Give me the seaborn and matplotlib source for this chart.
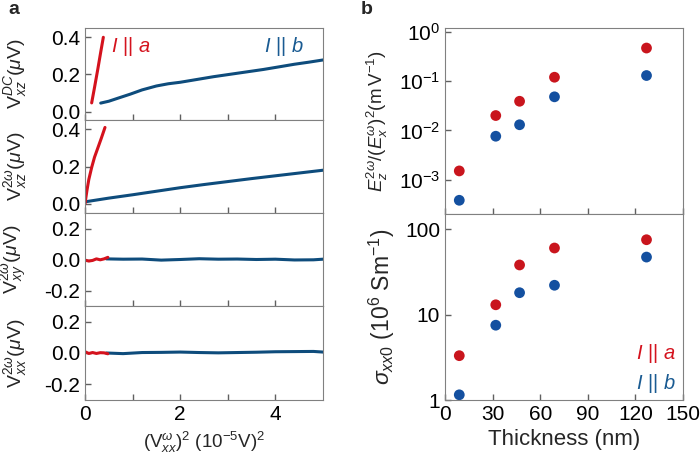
import numpy as np
import pandas as pd
import seaborn as sns
import matplotlib.pyplot as plt
from matplotlib.ticker import LogLocator, NullLocator, FixedLocator

# panel a: V vs (V_xx^w)^2, units 1e-5 V^2
dc_b_x = [0.33, 0.5, 0.7, 0.95, 1.2, 1.5, 1.75, 2.0, 2.35, 2.7, 3.05, 3.4, 3.75, 4.1, 4.4, 4.7, 5.0]
dc_b_y = [0.046, 0.056, 0.073, 0.094, 0.117, 0.138, 0.150, 0.158, 0.173, 0.188, 0.201, 0.214, 0.227, 0.242, 0.255, 0.266, 0.278]
dc_a_x = [0.14, 0.2, 0.27, 0.33, 0.385]
dc_a_y = [0.047, 0.13, 0.23, 0.32, 0.40]

xz_b_x = [0.0, 0.5, 1.0, 1.5, 2.0, 2.5, 3.0, 3.5, 4.0, 4.5, 5.0]
xz_b_y = [0.010, 0.030, 0.048, 0.067, 0.086, 0.103, 0.119, 0.135, 0.150, 0.165, 0.180]
xz_a_x = [0.0, 0.04, 0.08, 0.14, 0.2, 0.27, 0.34, 0.42]
xz_a_y = [0.0, 0.07, 0.13, 0.195, 0.25, 0.30, 0.35, 0.41]

xy_b_x = [0.45, 0.8, 1.2, 1.6, 2.0, 2.4, 2.8, 3.2, 3.6, 4.0, 4.4, 4.8, 5.0]
xy_b_y = [0.004, 0.002, 0.003, -0.004, 0.0, 0.005, 0.002, 0.003, 0.0, 0.002, -0.003, -0.002, 0.002]
xy_a_x = [0.0, 0.08, 0.16, 0.24, 0.32, 0.4, 0.48]
xy_a_y = [-0.004, -0.010, -0.006, 0.004, -0.002, 0.004, 0.014]

xx_b_x = [0.45, 0.8, 1.2, 1.6, 2.0, 2.4, 2.8, 3.2, 3.6, 4.0, 4.4, 4.8, 5.0]
xx_b_y = [0.0, -0.004, 0.003, 0.004, 0.006, 0.003, 0.001, 0.003, 0.005, 0.008, 0.009, 0.010, 0.006]
xx_a_x = [0.0, 0.08, 0.16, 0.24, 0.32, 0.4, 0.48]
xx_a_y = [0.008, -0.003, 0.003, -0.003, 0.002, 0.001, -0.005]

# panel b
thickness = [9, 32, 47, 69, 127]
ratio_a = [1.5e-3, 2.0e-2, 3.9e-2, 1.2e-1, 4.7e-1]
ratio_b = [3.8e-4, 7.6e-3, 1.3e-2, 4.8e-2, 1.3e-1]
sigma_a = [3.3, 13, 38, 60, 75]
sigma_b = [1.15, 7.5, 18, 22, 47]

RED = "#d4121d"
BLUE_LINE = "#0e4c7c"
RED_DOT = "#c9151d"
BLUE_DOT = "#1450a0"
BLUE_TXT = "#1a5b92"

sns.set_style("ticks")
plt.rcParams['font.family'] = ['Liberation Sans', 'DejaVu Sans']
plt.rcParams['mathtext.fontset'] = 'custom'
plt.rcParams['mathtext.rm'] = 'Liberation Sans'
plt.rcParams['mathtext.it'] = 'Liberation Sans:italic'
plt.rcParams['mathtext.bf'] = 'Liberation Sans:bold'
plt.rcParams['font.size'] = 15
plt.rcParams['axes.edgecolor'] = '#808080'
plt.rcParams['xtick.direction'] = 'in'
plt.rcParams['ytick.direction'] = 'in'
plt.rcParams['xtick.color'] = '#606060'
plt.rcParams['ytick.color'] = '#606060'
plt.rcParams['xtick.labelcolor'] = 'black'
plt.rcParams['ytick.labelcolor'] = 'black'
plt.rcParams['xtick.labelsize'] = 15
plt.rcParams['ytick.labelsize'] = 15

fig = plt.figure(figsize=(7, 4.55), dpi=100)
W, H = 700.0, 455.0


def box(l, t, r, b):
    return [l / W, 1 - b / H, (r - l) / W, (b - t) / H]


tops = [28, 120, 213, 306, 400]
axa = [fig.add_axes(box(85, tops[i], 323, tops[i + 1])) for i in range(4)]

panels = [
    (dc_a_x, dc_a_y, dc_b_x, dc_b_y, (-0.045, 0.45), [0.0, 0.2, 0.4], r"$\mathrm{V}^{DC}_{xz}(\mu\mathrm{V})$"),
    (xz_a_x, xz_a_y, xz_b_x, xz_b_y, (-0.05, 0.45), [0.0, 0.2, 0.4], r"$\mathrm{V}^{2\omega}_{xz}(\mu\mathrm{V})$"),
    (xy_a_x, xy_a_y, xy_b_x, xy_b_y, (-0.3, 0.3), [-0.2, 0.0, 0.2], r"$\mathrm{V}^{2\omega}_{xy}(\mu\mathrm{V})$"),
    (xx_a_x, xx_a_y, xx_b_x, xx_b_y, (-0.3, 0.3), [-0.2, 0.0, 0.2], r"$\mathrm{V}^{2\omega}_{xx}(\mu\mathrm{V})$"),
]

for ax, (ax_, ay_, bx_, by_, ylim, yt, lab) in zip(axa, panels):
    sns.lineplot(x=bx_, y=by_, ax=ax, color=BLUE_LINE, lw=2.2)
    sns.lineplot(x=ax_, y=ay_, ax=ax, color=RED, lw=2.2)
    ax.set_xlim(0, 5)
    ax.set_ylim(*ylim)
    ax.set_yticks(yt)
    ax.set_yticklabels(["%.1f" % v for v in yt])
    ax.xaxis.set_major_locator(FixedLocator([0, 2, 4]))
    ax.xaxis.set_minor_locator(FixedLocator([1, 3]))
    ax.tick_params(which='both', length=4, width=1)
    ax.set_ylabel(lab, fontsize=14)
    ax.yaxis.set_label_coords(-0.235, 0.5)
    if ax is not axa[-1]:
        ax.set_xticklabels([])

axa[-1].set_xlabel(r"$(\mathrm{V}^{\omega}_{xx})^2\ (10^{-5}\mathrm{V})^2$", fontsize=13.5)
axa[0].text(0.55, 0.35, r"$I$ || $a$", color=RED, fontsize=14.5, va='center')
axa[0].text(3.75, 0.35, r"$I$ || $b$", color=BLUE_TXT, fontsize=14.5, va='center')

# panel b
axb1 = fig.add_axes(box(445, 28, 683, 214))
axb2 = fig.add_axes(box(445, 214, 683, 400))

df = pd.DataFrame({'t': thickness, 'ra': ratio_a, 'rb': ratio_b, 'sa': sigma_a, 'sb': sigma_b})
for ax, ca, cb in [(axb1, 'ra', 'rb'), (axb2, 'sa', 'sb')]:
    sns.scatterplot(data=df, x='t', y=ca, ax=ax, color=RED_DOT, s=60, edgecolor='none')
    sns.scatterplot(data=df, x='t', y=cb, ax=ax, color=BLUE_DOT, s=60, edgecolor='none')
    ax.set_yscale('log')
    ax.set_xlim(0, 150)
    ax.set_xticks([0, 30, 60, 90, 120, 150])
    ax.yaxis.set_minor_locator(NullLocator())
    ax.tick_params(which='both', length=4, width=1)

axb1.set_ylim(2e-4, 1.2)
axb1.yaxis.set_major_locator(LogLocator(base=10, numticks=10))
axb1.set_xticklabels([])
axb1.set_xlabel("")
axb1.set_ylabel(r"$E^{2\omega}_{z}/(E^{\omega}_{x})^{2}(\mathrm{m\,V^{-1}})$", fontsize=13.5)
axb1.yaxis.set_label_coords(-0.23, 0.5)

axb2.set_ylim(1, 150)
axb2.set_yticks([1, 10, 100])
axb2.set_yticklabels(["1", "10", "100"])
axb2.set_xlabel("Thickness (nm)", fontsize=16)
axb2.set_ylabel(r"$\sigma_{xx0}$ ($10^{6}$ Sm$^{-1}$)", fontsize=16.5)
axb2.yaxis.set_label_coords(-0.2, 0.5)
axb2.text(0.97, 0.25, r"$I$ || $a$", color=RED, fontsize=14.5, ha='right', va='center', transform=axb2.transAxes)
axb2.text(0.97, 0.09, r"$I$ || $b$", color=BLUE_TXT, fontsize=14.5, ha='right', va='center', transform=axb2.transAxes)

fig.text(8 / W, 1 - 10 / H, "a", fontsize=14, fontweight='bold', va='center')
fig.text(361 / W, 1 - 10 / H, "b", fontsize=14, fontweight='bold', va='center')

fig.savefig("out.png", dpi=100)
